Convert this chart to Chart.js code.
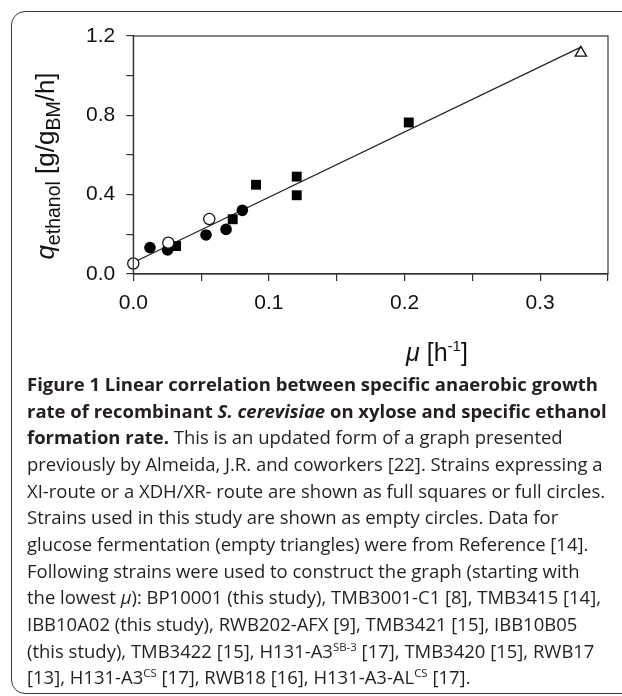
<!DOCTYPE html>
<html>
<head>
<meta charset="utf-8">
<script src="https://cdn.jsdelivr.net/npm/chart.js@4.4.1/dist/chart.umd.min.js"></script>
<style>
  body { margin: 0; background: #fff; width: 622px; height: 696px; overflow: hidden; position: relative; }
  #frame { position: absolute; left: 11px; top: 11px; width: 660px; height: 681px; border: 1.5px solid #3a3a3a; border-radius: 14px; }
  #chartBox { position: absolute; left: 0; top: 0; width: 622px; height: 372px; }
  #caption { position: absolute; left: 27px; top: 371px; font-family: "Open Sans", sans-serif; font-size: 15.4px;
             line-height: 26.67px; color: #231f20; white-space: nowrap; }
  #caption sup { font-size: 0.62em; vertical-align: 0.6em; line-height: 0; }
</style>
</head>
<body>
<div id="frame"></div>
<div id="chartBox"><canvas id="rateChart"></canvas></div>
<div id="caption">
  <div><b>Figure 1 Linear correlation between specific anaerobic growth</b></div>
  <div><b>rate of recombinant <i>S. cerevisiae</i> on xylose and specific ethanol</b></div>
  <div><b>formation rate.</b> This is an updated form of a graph presented</div>
  <div>previously by Almeida, J.R. and coworkers [22]. Strains expressing a</div>
  <div>XI-route or a XDH/XR- route are shown as full squares or full circles.</div>
  <div>Strains used in this study are shown as empty circles. Data for</div>
  <div>glucose fermentation (empty triangles) were from Reference [14].</div>
  <div>Following strains were used to construct the graph (starting with</div>
  <div>the lowest <i>μ</i>): BP10001 (this study), TMB3001-C1 [8], TMB3415 [14],</div>
  <div>IBB10A02 (this study), RWB202-AFX [9], TMB3421 [15], IBB10B05</div>
  <div>(this study), TMB3422 [15], H131-A3<sup>SB-3</sup> [17], TMB3420 [15], RWB17</div>
  <div>[13], H131-A3<sup>CS</sup> [17], RWB18 [16], H131-A3-AL<sup>CS</sup> [17].</div>
</div>
<script>
// values (mu in 1/h, q in g/gBM/h)
const muFilledCircle = [0.0123, 0.0253, 0.0536, 0.0684, 0.0804];
const qFilledCircle  = [0.133, 0.121, 0.197, 0.225, 0.321];
const muOpenCircle = [0, 0.0258, 0.056];
const qOpenCircle  = [0.053, 0.158, 0.277];
const muSquare = [0.0315, 0.0733, 0.0905, 0.1205, 0.1205, 0.2031];
const qSquare  = [0.141, 0.276, 0.450, 0.491, 0.397, 0.764];
const muTriangle = [0.330];
const qTriangle  = [1.115];
const muFit = [0, 0.330];
const qFit  = [0.058, 1.144];

const xTickLabels = ["0.0", "0.1", "0.2", "0.3"];
const yTickLabels = ["0.0", "0.4", "0.8", "1.2"];

const yTitle = [{ t: "q", it: true }, { t: "ethanol", sub: true }, { t: " [g/g" }, { t: "BM", sub: true }, { t: "/h]" }];
const xTitle = [{ t: "μ", it: true }, { t: " [h" }, { t: "-1", sup: true }, { t: "]" }];

const pts = (xs, ys) => xs.map((x, i) => ({ x: x, y: ys[i] }));

// draw a title made of pieces with sub/superscripts, centred on 0
function drawPieces(ctx, pieces, size, subSize) {
  const fontOf = p => (p.it ? "italic " : "") + ((p.sub || p.sup) ? subSize : size) + "px 'Liberation Sans', Arial, sans-serif";
  let total = 0;
  pieces.forEach(p => { ctx.font = fontOf(p); p.w = ctx.measureText(p.t).width; total += p.w; });
  let x = -total / 2;
  pieces.forEach(p => {
    ctx.font = fontOf(p);
    const dy = p.sub ? size * 0.24 : (p.sup ? -size * 0.4 : 0);
    ctx.fillText(p.t, x, dy);
    x += p.w;
  });
}

const frameAndTitles = {
  id: "frameAndTitles",
  afterDraw(chart) {
    const ctx = chart.ctx;
    const a = chart.chartArea;
    ctx.save();
    ctx.strokeStyle = "#333";
    ctx.lineWidth = 1.2;
    ctx.strokeRect(a.left, a.top, a.right - a.left, a.bottom - a.top);
    ctx.fillStyle = "#111";
    ctx.textBaseline = "alphabetic";
    ctx.textAlign = "left";
    ctx.save();
    ctx.translate(54, 166);
    ctx.rotate(-Math.PI / 2);
    drawPieces(ctx, yTitle, 26, 19.5);
    ctx.restore();
    ctx.translate(437, 361);
    drawPieces(ctx, xTitle, 25, 15);
    ctx.restore();
  }
};

const tickFont = { family: "'Liberation Sans', Arial, sans-serif", size: 21 };

new Chart(document.getElementById("rateChart"), {
  type: "scatter",
  data: {
    datasets: [
      { data: pts(muOpenCircle, qOpenCircle), pointStyle: "circle", pointRadius: 5.6,
        backgroundColor: "#fff", borderColor: "#111", borderWidth: 1.3 },
      { data: pts(muTriangle, qTriangle), pointStyle: "triangle", pointRadius: 6.5,
        backgroundColor: "#fff", borderColor: "#111", borderWidth: 1.3 },
      { data: pts(muSquare, qSquare), pointStyle: "rect", pointRadius: 7,
        backgroundColor: "#000", borderColor: "#000", borderWidth: 0 },
      { data: pts(muFilledCircle, qFilledCircle), pointStyle: "circle", pointRadius: 5.8,
        backgroundColor: "#000", borderColor: "#000", borderWidth: 0 },
      { data: pts(muFit, qFit), showLine: true, pointRadius: 0, borderColor: "#222",
        borderWidth: 1.2, fill: false }
    ]
  },
  options: {
    responsive: true,
    maintainAspectRatio: false,
    animation: false,
    clip: false,
    layout: { padding: { top: 36, right: 14, left: 0, bottom: 0 } },
    plugins: { legend: { display: false }, tooltip: { enabled: false } },
    elements: { point: { hoverRadius: 5 } },
    scales: {
      x: {
        type: "linear", min: 0, max: 0.35,
        afterFit: s => { s.height = 98; },
        border: { display: true, color: "#333", width: 1.2 },
        grid: { drawOnChartArea: false, drawTicks: true, tickLength: 7, color: "#333", lineWidth: 1.2 },
        ticks: {
          stepSize: 0.05, color: "#111", font: tickFont, padding: 10, maxRotation: 0, autoSkip: false,
          callback: v => xTickLabels.find(l => Math.abs(parseFloat(l) - v) < 1e-6) || ""
        }
      },
      y: {
        type: "linear", min: 0, max: 1.2,
        afterFit: s => { s.width = 133.3; },
        border: { display: true, color: "#333", width: 1.2 },
        grid: { drawOnChartArea: false, drawTicks: true, tickLength: 7, color: "#333", lineWidth: 1.2 },
        ticks: {
          stepSize: 0.2, color: "#111", font: tickFont, padding: 11, autoSkip: false,
          callback: v => yTickLabels.find(l => Math.abs(parseFloat(l) - v) < 1e-6) || ""
        }
      }
    }
  },
  plugins: [frameAndTitles]
});

// fit the caption font so the long lines span like the original (~578px)
const cap = document.getElementById("caption");
const probe = cap.children[4];
probe.style.display = "inline-block";
const w = probe.getBoundingClientRect().width;
probe.style.display = "";
cap.style.fontSize = (15.4 * 578 / w).toFixed(2) + "px";
</script>
</body>
</html>
